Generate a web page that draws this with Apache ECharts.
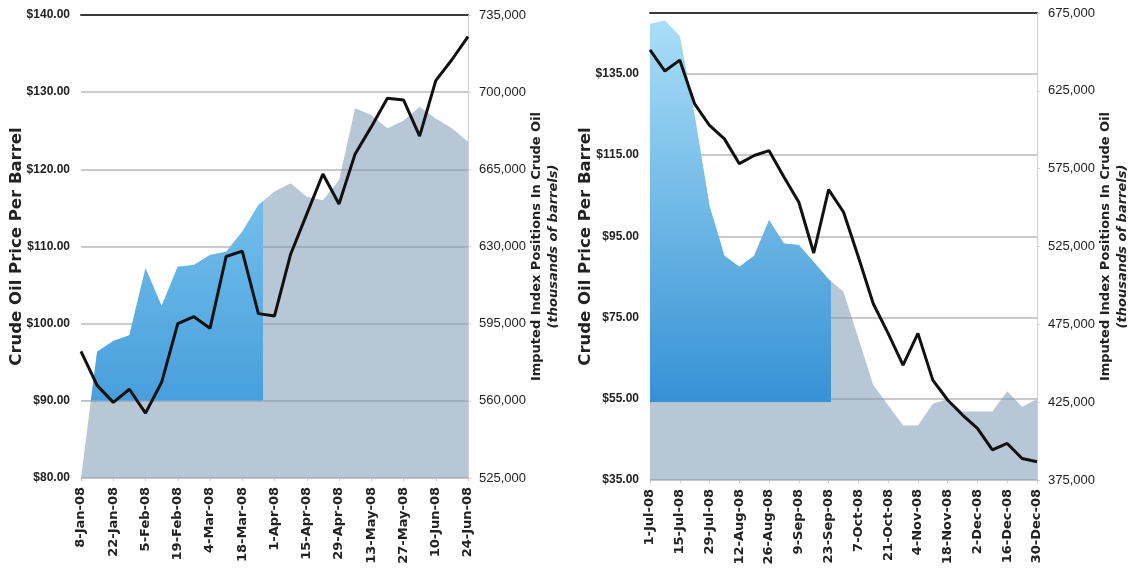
<!DOCTYPE html>
<html><head><meta charset="utf-8">
<script src="https://cdn.jsdelivr.net/npm/echarts@6/dist/echarts.min.js"></script>
<style>html,body{margin:0;padding:0;background:#fff}#c{width:1130px;height:573px}</style>
</head><body><div id="c"></div>
<script>
// ---------- Data: first half of 2008 (weekly) ----------
const h1TickLabels = ['8-Jan-08','22-Jan-08','5-Feb-08','19-Feb-08','4-Mar-08','18-Mar-08','1-Apr-08',
  '15-Apr-08','29-Apr-08','13-May-08','27-May-08','10-Jun-08','24-Jun-08'];
const h1Price = [96.4, 92.0, 89.8, 91.5, 88.4, 92.4, 100.0, 100.9, 99.4, 108.7, 109.4, 101.3, 101.0,
  109.0, 114.2, 119.4, 115.5, 122.0, 125.5, 129.2, 129.0, 124.3, 131.5, 134.2, 137.2];
const h1Positions = [525000, 582300, 587100, 589800, 620100, 603000, 620800, 621600, 626100, 627600,
  636700, 648800, 655000, 658700, 652600, 651000, 660000, 692700, 689600, 683600, 687000, 693400,
  688100, 683600, 677500];
const h1HighlightEndDay = 79;       // highlighted build-up window (days after 8-Jan)
const h1HighlightFloor = 560000;

// ---------- Data: second half of 2008 (weekly) ----------
const h2TickLabels = ['1-Jul-08','15-Jul-08','29-Jul-08','12-Aug-08','26-Aug-08','9-Sep-08','23-Sep-08',
  '7-Oct-08','21-Oct-08','4-Nov-08','18-Nov-08','2-Dec-08','16-Dec-08','30-Dec-08'];
const h2Price = [140.9, 135.7, 138.4, 127.6, 122.3, 119.0, 112.9, 114.9, 116.1, 109.6, 103.4, 90.9,
  106.5, 101.0, 89.9, 78.4, 71.1, 63.3, 71.1, 59.6, 54.7, 51.0, 47.7, 42.4, 44.0, 40.3, 39.5];
const h2Positions = [668000, 670000, 660000, 609000, 551000, 519000, 512000, 519000, 542000, 527000,
  526000, 515000, 504000, 496000, 466000, 436000, 423000, 410000, 410000, 424000, 427000, 419000,
  419000, 419000, 432000, 422000, 427000];
const h2HighlightEndDay = 85;
const h2HighlightFloor = 425000;

// ---------- Layout ----------
const G1 = {left: 81, top: 15, width: 387, height: 463};
const G2 = {left: 650, top: 13, width: 387, height: 467};
const A1 = {xMax: 168, pMin: 80, pMax: 140, pInt: 10, qMin: 525000, qMax: 735000, qInt: 35000};
const A2 = {xMax: 182, pMin: 35, pMax: 150, pInt: 20, qMin: 375000, qMax: 675000, qInt: 50000};

const weekly = arr => arr.map((v, i) => [i * 7, v]);
const fmtK = v => Math.round(v).toLocaleString('en-US');
const fmtD = v => '$' + v.toFixed(2);

const narrow = "'Liberation Sans','Arial',sans-serif";
const bold = "'DejaVu Sans','Verdana',sans-serif";

function clipGrid(G, A, endDay, floor) {
  return {
    left: G.left, top: G.top,
    width: G.width * endDay / A.xMax,
    height: G.height * (A.qMax - floor) / (A.qMax - A.qMin)
  };
}

const grids = [
  Object.assign({}, G1),
  clipGrid(G1, A1, h1HighlightEndDay, h1HighlightFloor),
  Object.assign({}, G2),
  clipGrid(G2, A2, h2HighlightEndDay, h2HighlightFloor)
];

function dateAxis(gi, max, labels) {
  return {
    gridIndex: gi, type: 'value', min: 0, max: max, interval: 14,
    axisLine: {show: true, onZero: false, lineStyle: {color: '#c8c8c8', width: 1}},
    axisTick: {show: true, length: 3, lineStyle: {color: '#c8c8c8'}},
    splitLine: {show: false},
    axisLabel: {
      rotate: 90, margin: 9, fontFamily: bold, fontWeight: 'bold', fontSize: 13, color: '#222',
      formatter: v => labels[Math.round(v / 14)] || ''
    }
  };
}
function hiddenX(gi, max) {
  return {gridIndex: gi, type: 'value', min: 0, max: max, show: false};
}
function topLine(gi, max) {
  return {gridIndex: gi, type: 'value', position: 'top', min: 0, max: max,
    axisLine: {show: true, onZero: false, lineStyle: {color: '#3a3a3a', width: 2}},
    axisTick: {show: false}, axisLabel: {show: false}, splitLine: {show: false}};
}

const xAxes = [
  dateAxis(0, A1.xMax, h1TickLabels), hiddenX(1, h1HighlightEndDay),
  dateAxis(2, A2.xMax, h2TickLabels), hiddenX(3, h2HighlightEndDay),
  topLine(0, A1.xMax), topLine(2, A2.xMax)
];

function priceAxis(gi, A) {
  return {
    gridIndex: gi, type: 'value', position: 'left', min: A.pMin, max: A.pMax, interval: A.pInt,
    name: 'Crude Oil Price Per Barrel', nameLocation: 'middle', nameRotate: 90, nameGap: 56,
    nameMoveOverlap: false,
    nameTextStyle: {fontFamily: bold, fontWeight: 'bold', fontSize: 16.5, color: '#222'},
    axisLine: {show: false, onZero: false}, axisTick: {show: false},
    splitLine: {show: true, lineStyle: {color: '#b8b8b8', width: 1.5}},
    axisLabel: {margin: 11, fontFamily: narrow, fontWeight: 'bold', fontSize: 12, color: '#222',
      formatter: fmtD, showMaxLabel: A === A1}
  };
}
function posAxis(gi, A) {
  return {
    gridIndex: gi, type: 'value', position: 'right', min: A.qMin, max: A.qMax, interval: A.qInt,
    name: '{a|Imputed Index Positions In Crude Oil}\n{b|(thousands of barrels)}',
    nameLocation: 'middle', nameRotate: 90, nameGap: 60,
    nameTextStyle: {rich: {
      a: {fontFamily: bold, fontWeight: 'bold', fontSize: 13, color: '#222', lineHeight: 17, align: 'center'},
      b: {fontFamily: bold, fontWeight: 'bold', fontStyle: 'italic', fontSize: 13, color: '#222', lineHeight: 17, align: 'center'}
    }},
    axisLine: {show: true, onZero: false, lineStyle: {color: '#d0d0d0', width: 1}},
    axisTick: {show: true, length: 3, lineStyle: {color: '#d0d0d0'}},
    splitLine: {show: false},
    axisLabel: {margin: 11, fontFamily: narrow, fontSize: 13, color: '#222', formatter: fmtK}
  };
}
function hiddenY(gi, min, max) {
  return {gridIndex: gi, type: 'value', min: min, max: max, show: false, splitLine: {show: false}};
}

const yAxes = [
  priceAxis(0, A1), posAxis(0, A1), hiddenY(1, h1HighlightFloor, A1.qMax),
  priceAxis(2, A2), posAxis(2, A2), hiddenY(3, h2HighlightFloor, A2.qMax)
];

const greyArea = {color: 'rgb(124,153,179)', opacity: 0.55, origin: 'start'};
function blueGrad(top, bottom) {
  return {type: 'linear', x: 0, y: 0, x2: 0, y2: 1,
    colorStops: [{offset: 0, color: top}, {offset: 1, color: bottom}]};
}

const series = [
  {type: 'line', xAxisIndex: 0, yAxisIndex: 1, data: weekly(h1Positions), symbol: 'none',
   lineStyle: {width: 0}, areaStyle: greyArea, z: 1},
  {type: 'line', xAxisIndex: 1, yAxisIndex: 2, data: weekly(h1Positions), symbol: 'none', clip: true,
   lineStyle: {width: 0}, areaStyle: {color: blueGrad('#86cdf1', '#3893d7'), opacity: 1, origin: 'start'}, z: 2},
  {type: 'line', xAxisIndex: 0, yAxisIndex: 0, data: weekly(h1Price), symbol: 'none',
   lineStyle: {color: '#111', width: 3}, z: 5},
  {type: 'line', xAxisIndex: 2, yAxisIndex: 4, data: weekly(h2Positions), symbol: 'none',
   lineStyle: {width: 0}, areaStyle: greyArea, z: 1},
  {type: 'line', xAxisIndex: 3, yAxisIndex: 5, data: weekly(h2Positions), symbol: 'none', clip: true,
   lineStyle: {width: 0}, areaStyle: {color: blueGrad('#a9def7', '#2f8dd3'), opacity: 1, origin: 'start'}, z: 2},
  {type: 'line', xAxisIndex: 2, yAxisIndex: 3, data: weekly(h2Price), symbol: 'none',
   lineStyle: {color: '#111', width: 3}, z: 5}
];

const chart = echarts.init(document.getElementById('c'), null, {renderer: 'canvas'});
chart.setOption({
  animation: false,
  backgroundColor: '#fff',
  grid: grids,
  xAxis: xAxes,
  yAxis: yAxes,
  series: series
});
</script>
</body></html>
